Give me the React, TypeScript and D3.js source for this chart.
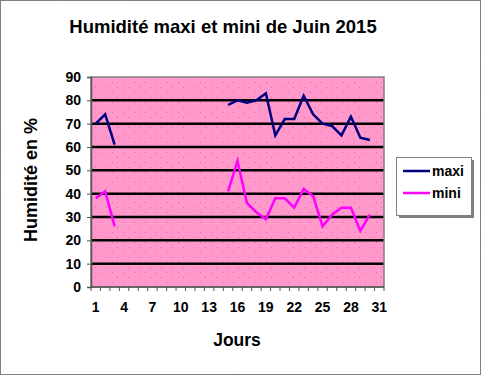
import React, { useEffect, useRef } from "react";
import * as d3 from "d3";

const days: number[] = d3.range(1, 32);
const maxi: (number | null)[] = [70, 74, 61, null, null, null, null, null, null, null, null, null, null, null, 78, 80, 79, 80, 83, 65, 72, 72, 82, 74, 70, 69, 65, 73, 64, 63, null];
const mini: (number | null)[] = [38, 41, 26, null, null, null, null, null, null, null, null, null, null, null, 41, 54, 36, 32, 29, 38, 38, 34, 42, 39, 26, 31, 34, 34, 24, 31, null];
const yTicks: number[] = d3.range(0, 100, 10);
const xLabels: number[] = [1, 4, 7, 10, 13, 16, 19, 22, 25, 28, 31];
const seriesNames = ["maxi", "mini"];
const seriesColors = ["#000080", "#FF00FF"];

const W = 481, H = 375;
const FONT = "'Liberation Sans', Arial, sans-serif";

export default function App() {
  const ref = useRef<SVGSVGElement>(null);
  useEffect(() => {
    const svg = d3.select(ref.current);
    svg.selectAll("*").remove();
    const x0 = 91, x1 = 384, yTop = 77, yBot = 287;
    const x = d3.scaleBand<number>().domain(days).range([x0, x1]).paddingInner(0).paddingOuter(0);
    const xc = (d: number) => (x(d) as number) + x.bandwidth() / 2;
    const y = d3.scaleLinear().domain([0, 90]).range([yBot, yTop]);

    svg.append("rect").attr("width", W).attr("height", H).attr("fill", "#fff");
    svg.append("rect").attr("x", 0.5).attr("y", 0.5).attr("width", W - 1).attr("height", H - 1)
      .attr("fill", "none").attr("stroke", "#000").attr("stroke-dasharray", "1,1");

    const defs = svg.append("defs");
    const pat = defs.append("pattern").attr("id", "dots").attr("patternUnits", "userSpaceOnUse")
      .attr("width", 11).attr("height", 10);
    pat.append("rect").attr("width", 11).attr("height", 10).attr("fill", "#FF99CC");
    pat.append("rect").attr("x", 2).attr("y", 2).attr("width", 1).attr("height", 1).attr("fill", "#FF5C9D");
    pat.append("rect").attr("x", 7).attr("y", 7).attr("width", 1).attr("height", 1).attr("fill", "#FF5C9D");

    svg.append("rect").attr("x", x0).attr("y", yTop).attr("width", x1 - x0).attr("height", yBot - yTop)
      .attr("fill", "url(#dots)");

    // grid lines
    svg.append("g").selectAll("line").data(yTicks.filter(t => t > 0 && t < 90)).join("line")
      .attr("x1", x0).attr("x2", x1).attr("y1", d => y(d)).attr("y2", d => y(d))
      .attr("stroke", "#000").attr("stroke-width", 2.5);

    // plot border
    svg.append("rect").attr("x", x0).attr("y", yTop).attr("width", x1 - x0).attr("height", yBot - yTop)
      .attr("fill", "none").attr("stroke", "#808080").attr("stroke-width", 1.5);

    // y axis
    const yAxis = svg.append("g").attr("transform", `translate(${x0},0)`)
      .call(d3.axisLeft(y).tickValues(yTicks).tickSize(4).tickPadding(6));
    yAxis.select(".domain").attr("stroke", "#555").attr("stroke-width", 1.5);
    yAxis.selectAll(".tick line").attr("stroke", "#555");
    yAxis.selectAll("text").attr("font-family", FONT).attr("font-size", 14).attr("font-weight", "bold").attr("fill", "#000");

    // x axis: ticks at band boundaries
    const bounds = days.map(d => x(d) as number).concat([x1]);
    svg.append("g").selectAll("line").data(bounds).join("line")
      .attr("x1", d => d).attr("x2", d => d).attr("y1", yBot).attr("y2", yBot + 4)
      .attr("stroke", "#555");
    svg.append("line").attr("x1", x0).attr("x2", x1).attr("y1", yBot).attr("y2", yBot)
      .attr("stroke", "#555").attr("stroke-width", 1.5);
    svg.append("g").selectAll("text").data(xLabels).join("text")
      .attr("x", d => xc(d)).attr("y", 312).attr("text-anchor", "middle")
      .attr("font-family", FONT).attr("font-size", 14).attr("font-weight", "bold").text(d => d);

    // lines
    const series = [maxi, mini];
    series.forEach((s, i) => {
      const line = d3.line<number>()
        .defined(d => s[d - 1] != null)
        .x(d => xc(d)).y(d => y(s[d - 1] as number));
      svg.append("path").datum(days).attr("d", line).attr("fill", "none")
        .attr("stroke", seriesColors[i]).attr("stroke-width", 2.5).attr("stroke-linejoin", "miter");
    });

    // titles
    svg.append("text").attr("x", 223).attr("y", 33).attr("text-anchor", "middle")
      .attr("font-family", FONT).attr("font-size", 18.5).attr("font-weight", "bold")
      .text("Humidité maxi et mini de Juin 2015");
    svg.append("text").attr("x", 237).attr("y", 346).attr("text-anchor", "middle")
      .attr("font-family", FONT).attr("font-size", 17.5).attr("font-weight", "bold").text("Jours");
    svg.append("text").attr("transform", "translate(37,180) rotate(-90)").attr("text-anchor", "middle")
      .attr("font-family", FONT).attr("font-size", 18).attr("font-weight", "bold").text("Humidité en %");

    // legend
    const lg = svg.append("g");
    lg.append("rect").attr("x", 399).attr("y", 160).attr("width", 75).attr("height", 58).attr("fill", "#808080");
    lg.append("rect").attr("x", 396.5).attr("y", 157.5).attr("width", 75).attr("height", 58)
      .attr("fill", "#fff").attr("stroke", "#808080").attr("stroke-width", 1);
    seriesNames.forEach((n, i) => {
      const yy = 171 + i * 22;
      lg.append("line").attr("x1", 403).attr("x2", 430).attr("y1", yy).attr("y2", yy)
        .attr("stroke", seriesColors[i]).attr("stroke-width", 2.5);
      lg.append("text").attr("x", 432).attr("y", yy + 5).attr("font-family", FONT)
        .attr("font-size", 14).attr("font-weight", "bold").text(n);
    });
  }, []);
  return (
    <svg ref={ref} width={W} height={H} style={{ position: "fixed", left: 0, top: 0, display: "block" }} />
  );
}
